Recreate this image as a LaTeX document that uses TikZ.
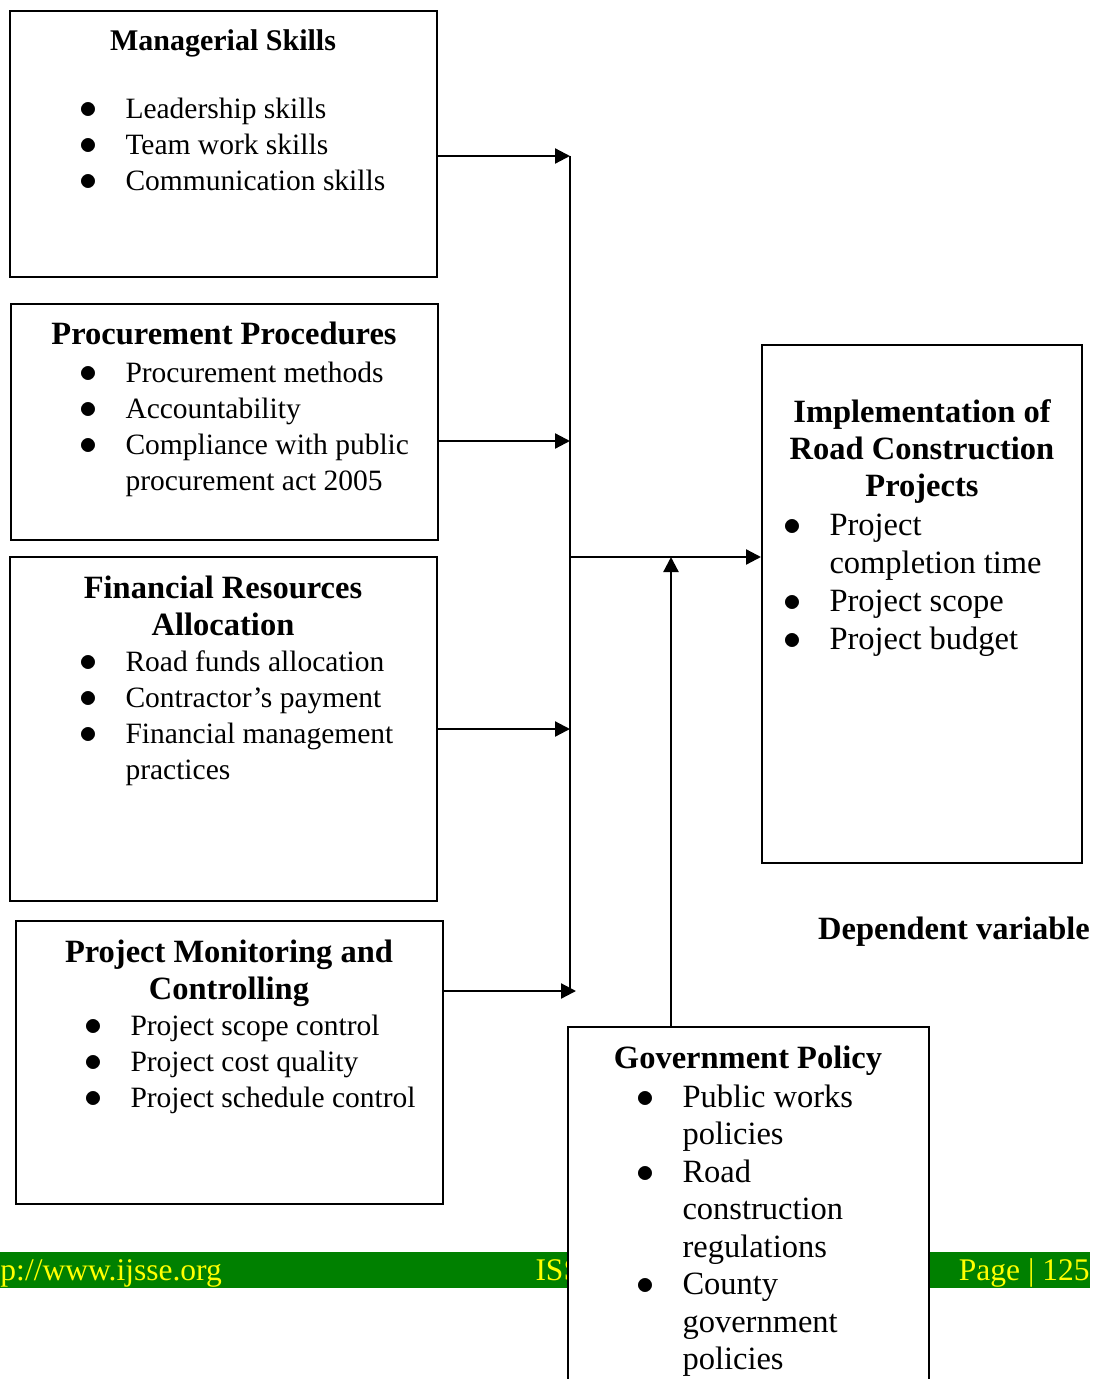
\documentclass[tikz,border=0pt]{standalone}
\usepackage{fontspec}
\setmainfont{Liberation Serif}
\usepackage{tikz}
\usetikzlibrary{arrows.meta,positioning,fit}
\definecolor{footgreen}{RGB}{0,128,0}
\definecolor{footyellow}{RGB}{255,255,0}
\newcommand{\bodyfont}{\fontsize{11.8}{14.4}\selectfont}
\newcommand{\bigbody}{\fontsize{13}{15.2}\selectfont}
\newcommand{\titlefont}{\fontsize{13}{14.8}\selectfont\bfseries}
\newcommand{\footfont}{\fontsize{12.6}{14.4}\selectfont}
\newcommand{\bl}{\makebox[18.4pt][l]{\scalebox{1.2}{$\bullet$}}}

\begin{document}
\begin{tikzpicture}[x=0.4pt,y=-0.4pt,
    varbox/.style={draw,line width=0.8pt,inner sep=0pt},
    title/.style={anchor=base,inner sep=0pt,font=\titlefont},
    items/.style={anchor=base west,inner sep=0pt,font=\bodyfont},
    foot/.style={inner sep=0pt,text=footyellow,font=\footfont},
    link/.style={-{Triangle[length=6pt,width=6pt]},line width=0.9pt}]
    \useasboundingbox (0,0) rectangle (1097,1379);

    % Footer bar
    \node[fill=footgreen,inner sep=0pt,fit={(0,1252)(1090,1288)}] (footer) {};
    \node[foot,anchor=base west] (site) at (0,1280) {p://www.ijsse.org};
    \node[foot,anchor=base west] (issn) at (535,1280) {ISSN};
    \node[foot,anchor=base east] (page) at (1090,1280) {Page | 125};

    % Independent variables
    \node[varbox,fit={(10,11)(437,277)}] (mgr) {};
    \node[title,font=\fontsize{12}{14.4}\selectfont\bfseries] (mgrtitle) at (223,51) {\begin{tabular}[t]{@{}c@{}}Managerial Skills\end{tabular}};
    \node[items] (mgrlist) at (79,118) {\begin{tabular}[t]{@{}l@{}l@{}}
        \bl & Leadership skills\\
        \bl & Team work skills\\
        \bl & Communication skills
    \end{tabular}};

    \node[varbox,fit={(11,304)(438,540)}] (proc) {};
    \node[title] (proctitle) at (224,344) {\begin{tabular}[t]{@{}c@{}}Procurement Procedures\end{tabular}};
    \node[items] (proclist) at (79,382) {\begin{tabular}[t]{@{}l@{}l@{}}
        \bl & Procurement methods\\
        \bl & Accountability\\
        \bl & Compliance with public\\
            & procurement act 2005
    \end{tabular}};

    \node[varbox,fit={(10,557)(437,901)}] (fin) {};
    \node[title] (fintitle) at (223,598) {\begin{tabular}[t]{@{}c@{}}Financial Resources\\ Allocation\end{tabular}};
    \node[items] (finlist) at (79,671) {\begin{tabular}[t]{@{}l@{}l@{}}
        \bl & Road funds allocation\\
        \bl & Contractor’s payment\\
        \bl & Financial management\\
            & practices
    \end{tabular}};

    \node[varbox,fit={(16,921)(443,1204)}] (mon) {};
    \node[title] (montitle) at (229,962) {\begin{tabular}[t]{@{}c@{}}Project Monitoring and\\ Controlling\end{tabular}};
    \node[items] (monlist) at (84,1035) {\begin{tabular}[t]{@{}l@{}l@{}}
        \bl & Project scope control\\
        \bl & Project cost quality\\
        \bl & Project schedule control
    \end{tabular}};

    % Dependent variable
    \node[varbox,fit={(762,345)(1082,863)}] (impl) {};
    \node[title] (impltitle) at (922,422) {\begin{tabular}[t]{@{}c@{}}Implementation of\\ Road Construction\\ Projects\end{tabular}};
    \node[items,font=\bigbody] (impllist) at (783,535) {\begin{tabular}[t]{@{}l@{}l@{}}
        \bl & Project\\
            & completion time\\
        \bl & Project scope\\
        \bl & Project budget
    \end{tabular}};
    \node[anchor=base,inner sep=0pt,font=\titlefont] (deplabel) at (954,939) {Dependent variable};

    % Moderating variable
    \node[varbox,fill=white,fit={(568,1027)(929,1390)}] (gov) {};
    \node[title] (govtitle) at (748,1068) {\begin{tabular}[t]{@{}c@{}}Government Policy\end{tabular}};
    \node[items,font=\fontsize{13}{15}\selectfont] (govlist) at (636,1107) {\begin{tabular}[t]{@{}l@{}l@{}}
        \bl & Public works\\
            & policies\\
        \bl & Road\\
            & construction\\
            & regulations\\
        \bl & County\\
            & government\\
            & policies
    \end{tabular}};

    % Connectors
    \coordinate (busTop) at (570,156);
    \coordinate (busBot) at (570,991);
    \coordinate (j2) at (570,441);
    \coordinate (j3) at (570,729);
    \coordinate (j4) at (576,991);
    \coordinate (busMid) at (570,557);
    \coordinate (govIn) at (671,557);
    \draw[line width=0.9pt] (busTop) -- (busBot);
    \draw[link] (mgr.east |- busTop) -- (busTop);
    \draw[link] (proc.east |- j2) -- (j2);
    \draw[link] (fin.east |- j3) -- (j3);
    \draw[link] (mon.east |- j4) -- (j4);
    \draw[link] (busMid) -- (impl.west |- busMid);
    \draw[link] (gov.north -| govIn) -- (govIn);
\end{tikzpicture}
\end{document}
